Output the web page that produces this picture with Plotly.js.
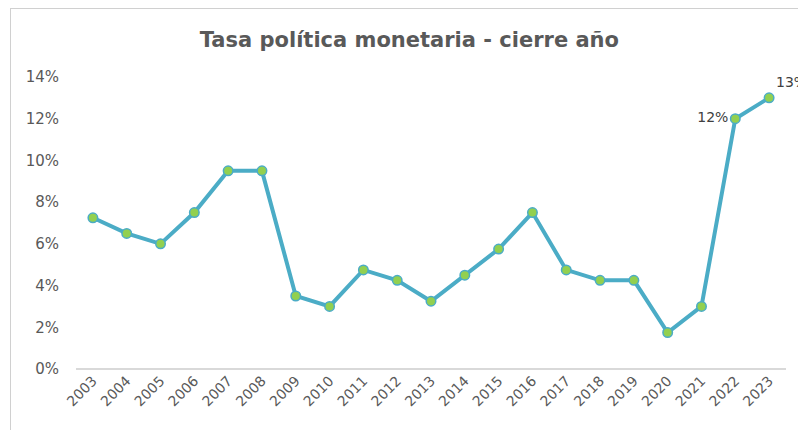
<!DOCTYPE html>
<html>
<head>
<meta charset="utf-8">
<script src="https://cdn.plot.ly/plotly-3.0.1.min.js"></script>
<style>
  html, body { margin: 0; padding: 0; background: #ffffff; }
  #wrap { position: relative; width: 798px; height: 430px; overflow: hidden; }
  #frame { position: absolute; left: 10px; top: 8px; width: 800px; height: 440px; border: 1px solid #d0d0d0; box-sizing: border-box; }
  #chart { position: absolute; left: 0; top: 0; width: 798px; height: 430px; }
</style>
</head>
<body>
<div id="wrap">
  <div id="frame"></div>
  <div id="chart"></div>
</div>
<script>
const years = ["2003","2004","2005","2006","2007","2008","2009","2010","2011","2012","2013","2014","2015","2016","2017","2018","2019","2020","2021","2022","2023"];
const rates = [7.25, 6.5, 6.0, 7.5, 9.5, 9.5, 3.5, 3.0, 4.75, 4.25, 3.25, 4.5, 5.75, 7.5, 4.75, 4.25, 4.25, 1.75, 3.0, 12.0, 13.0];
const pointLabels = ["","","","","","","","","","","","","","","","","","","","12%","13%"];
const labelPositions = ["top center","top center","top center","top center","top center","top center","top center","top center","top center","top center","top center","top center","top center","top center","top center","top center","top center","top center","top center","middle left","top right"];
const yTickVals = [0, 2, 4, 6, 8, 10, 12, 14];
const yTickText = ["0%","2%","4%","6%","8%","10%","12%","14%"];

const trace = {
  x: years,
  y: rates,
  type: "scatter",
  mode: "lines+markers+text",
  text: pointLabels,
  textposition: labelPositions,
  textfont: { family: "DejaVu Sans, sans-serif", size: 14, color: "#404040" },
  line: { color: "#4bacc6", width: 4 },
  marker: { color: "#92d050", size: 9.5, line: { color: "#4bacc6", width: 1.5 } },
  cliponaxis: false,
  hoverinfo: "x+y"
};

const layout = {
  width: 798,
  height: 430,
  margin: { l: 76, r: 12, t: 77, b: 61 },
  paper_bgcolor: "rgba(0,0,0,0)",
  plot_bgcolor: "rgba(0,0,0,0)",
  showlegend: false,
  title: {
    text: "<b>Tasa política monetaria - cierre año</b>",
    x: 0.513, xanchor: "center",
    y: 0.907, yanchor: "middle",
    font: { family: "DejaVu Sans, Verdana, sans-serif", size: 21, color: "#595959" }
  },
  xaxis: {
    type: "category",
    range: [-0.5, 20.5],
    automargin: false,
    tickvals: years,
    ticktext: years,
    tickangle: -45,
    showgrid: false,
    zeroline: false,
    showline: false,
    ticks: "",
    tickfont: { family: "DejaVu Sans, sans-serif", size: 14, color: "#595959" },
    fixedrange: true
  },
  yaxis: {
    range: [0, 14],
    automargin: false,
    tickvals: yTickVals,
    ticktext: yTickText,
    showgrid: false,
    zeroline: true,
    zerolinecolor: "#d9d9d9",
    zerolinewidth: 1.5,
    showline: false,
    ticks: "",
    ticklabelstandoff: 16,
    tickfont: { family: "DejaVu Sans, sans-serif", size: 15, color: "#595959" },
    fixedrange: true
  }
};

Plotly.newPlot("chart", [trace], layout, { displayModeBar: false, staticPlot: true });
</script>
</body>
</html>
